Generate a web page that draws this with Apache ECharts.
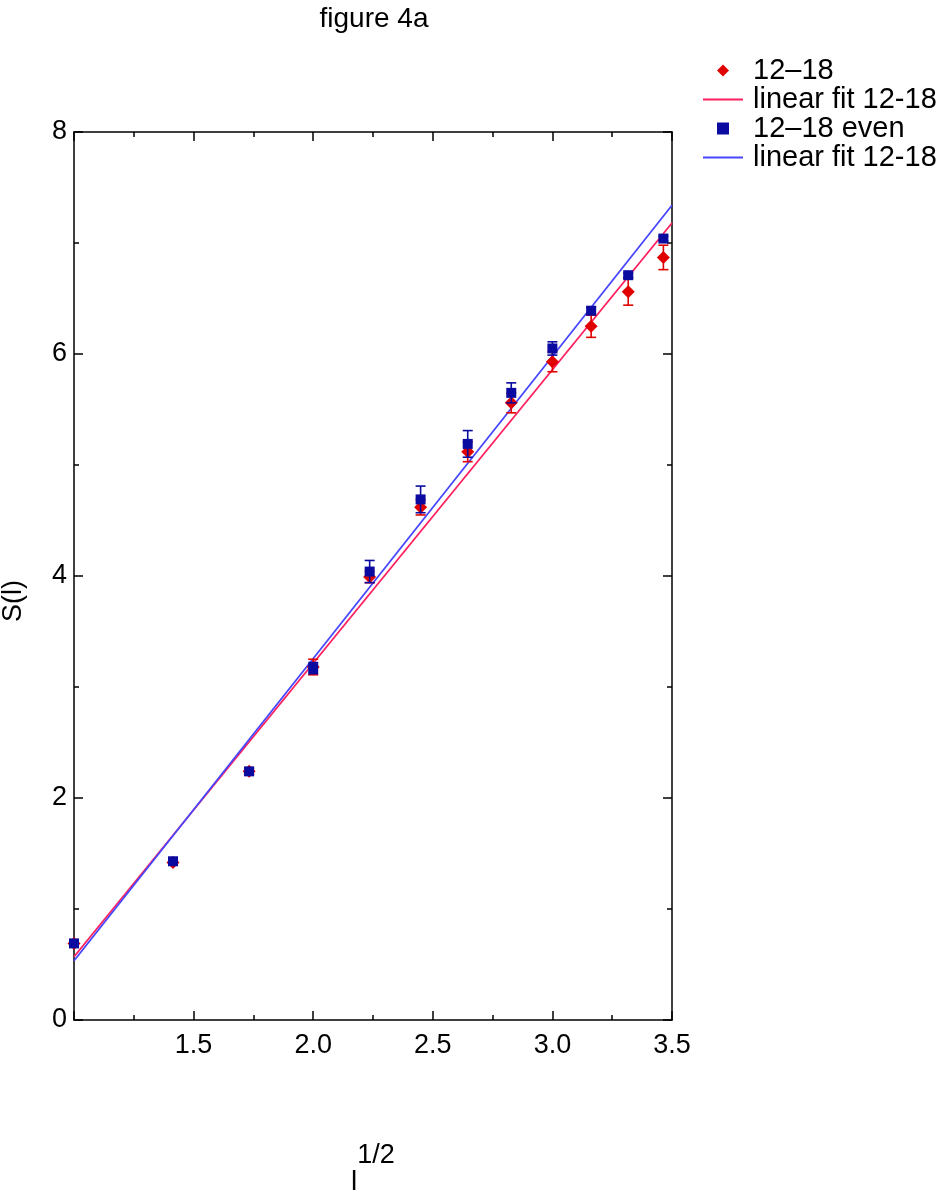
<!DOCTYPE html>
<html>
<head>
<meta charset="utf-8">
<script src="https://cdn.jsdelivr.net/npm/echarts@6/dist/echarts.min.js"></script>
<style>
  html, body { margin: 0; padding: 0; background: #fff; }
  #main { width: 944px; height: 1199px; }
</style>
</head>
<body>
<div id="main"></div>
<script>
// x = l^(1/2), l = 1..12
var xVals = [1, 1.414, 1.732, 2, 2.236, 2.449, 2.646, 2.828, 3, 3.162, 3.317, 3.464];

// 12-18
var redY   = [0.69, 1.42, 2.24, 3.18, 3.99, 4.62, 5.12, 5.56, 5.93, 6.25, 6.56, 6.87];
var redErr = [0.02, 0.02, 0.03, 0.07, 0.05, 0.07, 0.09, 0.09, 0.09, 0.10, 0.12, 0.11];

// 12-18 even
var blueY   = [0.69, 1.43, 2.24, 3.17, 4.04, 4.69, 5.19, 5.65, 6.05, 6.39, 6.71, 7.04];
var blueErr = [0.02, 0.02, 0.03, 0.05, 0.10, 0.12, 0.12, 0.09, 0.06, 0.03, 0.02, 0.02];

// fit line end points
var fitX = [1, 3.5];
var redFitY = [0.57, 7.18];
var blueFitY = [0.534, 7.34];

var xTicks = { min: 1, max: 3.5, interval: 0.5 };
var yTicks = { min: 0, max: 8, interval: 2 };

var legendLabels = {
  'red': '12\u201318',
  'redFit': 'linear fit 12-18',
  'blue': '12\u201318 even',
  'blueFit': 'linear fit 12-18'
};

var FONT = "'Liberation Sans', Arial, Helvetica, sans-serif";
// path icons keep their aspect inside the legend box
var LINE_ICON = 'path://M0 0H40V2H0Z';
var DIAMOND_ICON = 'path://M5 0L10 5L5 10L0 5Z';
var SQUARE_ICON = 'path://M0 0H10V10H0Z';

function pairs(xs, ys) {
  var out = [];
  for (var i = 0; i < xs.length; i++) out.push([xs[i], ys[i]]);
  return out;
}
function errData(xs, ys, es) {
  var out = [];
  for (var i = 0; i < xs.length; i++) out.push([xs[i], ys[i] - es[i], ys[i] + es[i]]);
  return out;
}
function errRender(color) {
  return function (params, api) {
    var lo = api.coord([api.value(0), api.value(1)]);
    var hi = api.coord([api.value(0), api.value(2)]);
    var w = 5;
    var st = { stroke: color, lineWidth: 1.6 };
    return {
      type: 'group',
      children: [
        { type: 'line', shape: { x1: lo[0], y1: lo[1], x2: hi[0], y2: hi[1] }, style: st },
        { type: 'line', shape: { x1: lo[0] - w, y1: lo[1], x2: lo[0] + w, y2: lo[1] }, style: st },
        { type: 'line', shape: { x1: hi[0] - w, y1: hi[1], x2: hi[0] + w, y2: hi[1] }, style: st }
      ]
    };
  };
}

// onZero off, otherwise the top axis snaps down to y = 0
var axisLine = { show: true, onZero: false, lineStyle: { color: '#000', width: 1.5 } };
var tick = { show: true, inside: true, length: 9, lineStyle: { color: '#000', width: 1.5 } };
var minor = { show: true, splitNumber: 2, length: 5, lineStyle: { color: '#000', width: 1.5 } };

var chart = echarts.init(document.getElementById('main'));
var option = {
  backgroundColor: '#fff',
  animation: false,
  textStyle: { fontFamily: FONT },
  title: {
    text: 'figure 4a',
    left: 369,
    top: 0,
    textAlign: 'center',
    textStyle: { fontFamily: FONT, fontSize: 28, fontWeight: 'normal', color: '#000' }
  },
  legend: {
    orient: 'vertical',
    left: 698,
    top: 51,
    itemWidth: 40,
    itemHeight: 12,
    itemGap: 0,
    data: [
      { name: 'red', icon: DIAMOND_ICON },
      { name: 'redFit', icon: LINE_ICON },
      { name: 'blue', icon: SQUARE_ICON },
      { name: 'blueFit', icon: LINE_ICON }
    ],
    formatter: function (name) { return legendLabels[name]; },
    textStyle: { fontFamily: FONT, fontSize: 29, color: '#000', lineHeight: 29, padding: [0, 0, 0, 5] }
  },
  grid: { left: 74, right: 272, top: 132, bottom: 179, outerBoundsMode: 'none', containLabel: false },
  xAxis: [{
    type: 'value',
    position: 'bottom',
    min: xTicks.min, max: xTicks.max, interval: xTicks.interval,
    axisLine: axisLine, axisTick: tick, minorTick: minor,
    splitLine: { show: false },
    axisLabel: {
      showMinLabel: false, margin: 12, color: '#000', fontSize: 27, fontFamily: FONT,
      formatter: function (v) { return v.toFixed(1); }
    },
    name: '{b|l}{s|1/2}',
    nameLocation: 'middle',
    nameGap: 122,
    nameTextStyle: {
      rich: {
        b: { fontFamily: FONT, fontSize: 28, color: '#000', verticalAlign: 'bottom', lineHeight: 54 },
        s: { fontFamily: FONT, fontSize: 27, color: '#000', verticalAlign: 'top', lineHeight: 54 }
      }
    }
  }, {
    type: 'value',
    position: 'top',
    min: xTicks.min, max: xTicks.max, interval: xTicks.interval,
    axisLine: axisLine, axisTick: tick, minorTick: minor,
    splitLine: { show: false },
    axisLabel: { show: false }
  }],
  yAxis: [{
    type: 'value',
    position: 'left',
    min: yTicks.min, max: yTicks.max, interval: yTicks.interval,
    axisLine: axisLine, axisTick: tick, minorTick: minor,
    splitLine: { show: false },
    axisLabel: { margin: 7, color: '#000', fontSize: 27, fontFamily: FONT },
    name: 'S(l)',
    nameLocation: 'middle',
    nameGap: 47,
    nameTextStyle: { fontFamily: FONT, fontSize: 27, color: '#000', padding: [0, 50, 0, 0] }
  }, {
    type: 'value',
    position: 'right',
    min: yTicks.min, max: yTicks.max, interval: yTicks.interval,
    axisLine: axisLine, axisTick: tick, minorTick: minor,
    splitLine: { show: false },
    axisLabel: { show: false }
  }],
  series: [
    {
      name: 'redFit', type: 'line', data: pairs(fitX, redFitY),
      symbol: 'none', lineStyle: { color: '#ff1f5e', width: 1.8 }, itemStyle: { color: '#ff1f5e' }, z: 2
    },
    {
      name: 'blueFit', type: 'line', data: pairs(fitX, blueFitY),
      symbol: 'none', lineStyle: { color: '#4646ff', width: 1.8 }, itemStyle: { color: '#4646ff' }, z: 2
    },
    {
      name: 'redErr', type: 'custom', data: errData(xVals, redY, redErr),
      renderItem: errRender('#e00000'), z: 3
    },
    {
      name: 'red', type: 'scatter', data: pairs(xVals, redY),
      symbol: 'diamond', symbolSize: 13, itemStyle: { color: '#e00000', opacity: 1 }, z: 4
    },
    {
      name: 'blueErr', type: 'custom', data: errData(xVals, blueY, blueErr),
      renderItem: errRender('#0a0aa0'), z: 5
    },
    {
      name: 'blue', type: 'scatter', data: pairs(xVals, blueY),
      symbol: 'rect', symbolSize: 10, itemStyle: { color: '#0a0aa0', opacity: 1 }, z: 6
    }
  ]
};
chart.setOption(option);
</script>
</body>
</html>
